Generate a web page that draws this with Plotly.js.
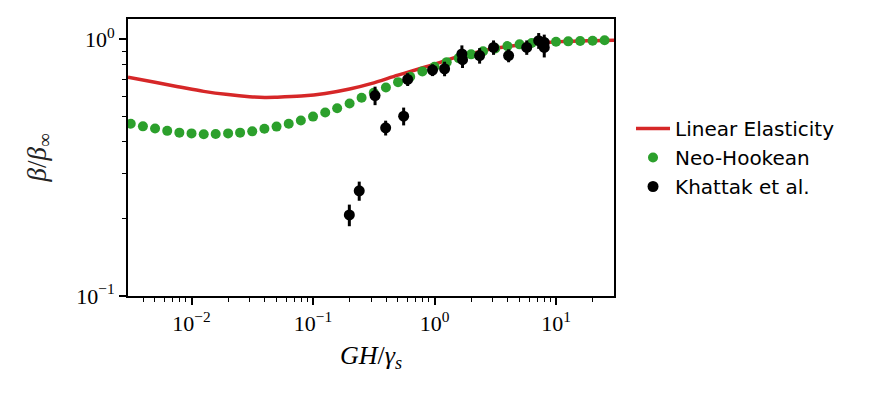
<!DOCTYPE html>
<html>
<head>
<meta charset="utf-8">
<script src="https://cdn.plot.ly/plotly-3.0.1.min.js"></script>
<style>
  html, body { margin: 0; padding: 0; background: #fff; }
  #chart { width: 877px; height: 395px; }
</style>
</head>
<body>
<div id="chart"></div>
<script>
// Linear elasticity curve
var linX = [0.003, 0.005, 0.008, 0.0126, 0.02, 0.03, 0.04, 0.05, 0.08, 0.126, 0.2,
            0.3, 0.5, 0.8, 1.1, 1.26, 2, 3, 5, 8, 12.6, 20, 30];
var linY = [0.712, 0.680, 0.652, 0.627, 0.609, 0.598, 0.594, 0.595, 0.601, 0.615, 0.640,
            0.672, 0.725, 0.775, 0.811, 0.830, 0.880, 0.918, 0.950, 0.970, 0.982, 0.988, 0.992];

// Neo-Hookean points
var neoX = [0.00316, 0.00398, 0.00501, 0.00631, 0.00794, 0.01, 0.0126, 0.0158, 0.02, 0.0251,
            0.0316, 0.0398, 0.0501, 0.0631, 0.0794, 0.1, 0.126, 0.158, 0.2, 0.251,
            0.316, 0.398, 0.501, 0.631, 0.794, 1, 1.26, 1.58, 2, 2.51,
            3.16, 3.98, 5.01, 6.31, 7.94, 10, 12.6, 15.8, 20, 25.1];
var neoY = [0.469, 0.458, 0.449, 0.440, 0.433, 0.430, 0.427, 0.428, 0.430, 0.433,
            0.438, 0.448, 0.457, 0.469, 0.483, 0.500, 0.519, 0.539, 0.562, 0.592,
            0.619, 0.649, 0.681, 0.715, 0.750, 0.782, 0.815, 0.845, 0.874, 0.898,
            0.922, 0.941, 0.956, 0.968, 0.976, 0.979, 0.982, 0.985, 0.988, 0.991];

// Khattak et al. experiments
var expX = [0.199, 0.240, 0.324, 0.396, 0.557, 0.601, 0.962, 1.21, 1.68, 1.70,
            2.35, 3.06, 4.07, 5.74, 7.2, 8.0, 8.0];
var expY = [0.207, 0.257, 0.604, 0.452, 0.502, 0.698, 0.759, 0.768, 0.877, 0.833,
            0.864, 0.930, 0.864, 0.930, 0.988, 0.973, 0.930];
var expErr = [0.020, 0.022, 0.050, 0.030, 0.040, 0.040, 0.040, 0.050, 0.070, 0.060,
              0.060, 0.060, 0.050, 0.060, 0.070, 0.070, 0.080];

var xTickVals = [0.01, 0.1, 1, 10];
var xTickText = ['10<sup>−2</sup>', '10<sup>−1</sup>', '10<sup>0</sup>', '10<sup>1</sup>'];
var xMinor = [0.004, 0.005, 0.006, 0.007, 0.008, 0.009,
              0.02, 0.03, 0.04, 0.05, 0.06, 0.07, 0.08, 0.09,
              0.2, 0.3, 0.4, 0.5, 0.6, 0.7, 0.8, 0.9,
              2, 3, 4, 5, 6, 7, 8, 9, 20];
var yTickVals = [0.1, 1];
var yTickText = ['10<sup>−1</sup>', '10<sup>0</sup>'];
var yMinor = [0.2, 0.3, 0.4, 0.5, 0.6, 0.7, 0.8, 0.9];

var data = [
  {
    x: linX, y: linY,
    name: 'Linear Elasticity',
    mode: 'lines',
    type: 'scatter',
    line: { color: '#d62728', width: 3.5, shape: 'spline', smoothing: 1 }
  },
  {
    x: neoX, y: neoY,
    name: 'Neo-Hookean',
    mode: 'markers',
    type: 'scatter',
    marker: { color: '#2ca02c', size: 10 }
  },
  {
    x: expX, y: expY,
    name: 'Khattak et al.',
    mode: 'markers',
    type: 'scatter',
    marker: { color: 'black', size: 11 },
    error_y: { type: 'data', array: expErr, visible: true, color: 'black', thickness: 3, width: 0 }
  }
];

var axisFont = { family: 'Liberation Serif, serif', size: 22, color: 'black' };

var layout = {
  width: 877,
  height: 395,
  margin: { l: 128, r: 263, t: 19, b: 99 },
  paper_bgcolor: 'white',
  plot_bgcolor: 'white',
  showlegend: true,
  legend: {
    x: 1.035, y: 0.5, xanchor: 'left', yanchor: 'middle',
    itemwidth: 34,
    font: { family: 'DejaVu Sans, sans-serif', size: 20, color: 'black' },
    bgcolor: 'rgba(0,0,0,0)'
  },
  xaxis: {
    type: 'log',
    range: [Math.log10(0.003), Math.log10(30)],
    tickvals: xTickVals,
    ticktext: xTickText,
    tickfont: axisFont,
    ticks: 'outside', ticklen: 7, tickwidth: 1.5, tickcolor: 'black',
    minor: { tickvals: xMinor, ticks: 'outside', ticklen: 4, tickwidth: 1.2, tickcolor: 'black', showgrid: false },
    showline: true, linecolor: 'black', linewidth: 2, mirror: true,
    showgrid: false, zeroline: false,
    title: { text: '<i>GH</i>/<i>γ</i><sub><i>s</i></sub>', font: { family: 'Liberation Serif, serif', size: 26, color: 'black' }, standoff: 10 }
  },
  yaxis: {
    type: 'log',
    range: [-1, Math.log10(1.2)],
    tickvals: yTickVals,
    ticktext: yTickText,
    tickfont: axisFont,
    ticks: 'outside', ticklen: 7, tickwidth: 1.5, tickcolor: 'black',
    minor: { tickvals: yMinor, ticks: 'outside', ticklen: 4, tickwidth: 1.2, tickcolor: 'black', showgrid: false },
    showline: true, linecolor: 'black', linewidth: 2, mirror: true,
    showgrid: false, zeroline: false,
    title: { text: '<i>β</i>/<i>β</i><sub>∞</sub>', font: { family: 'Liberation Serif, serif', size: 27, color: '#222' }, standoff: 22 }
  }
};

Plotly.newPlot('chart', data, layout, { displayModeBar: false, responsive: false });
</script>
</body>
</html>
